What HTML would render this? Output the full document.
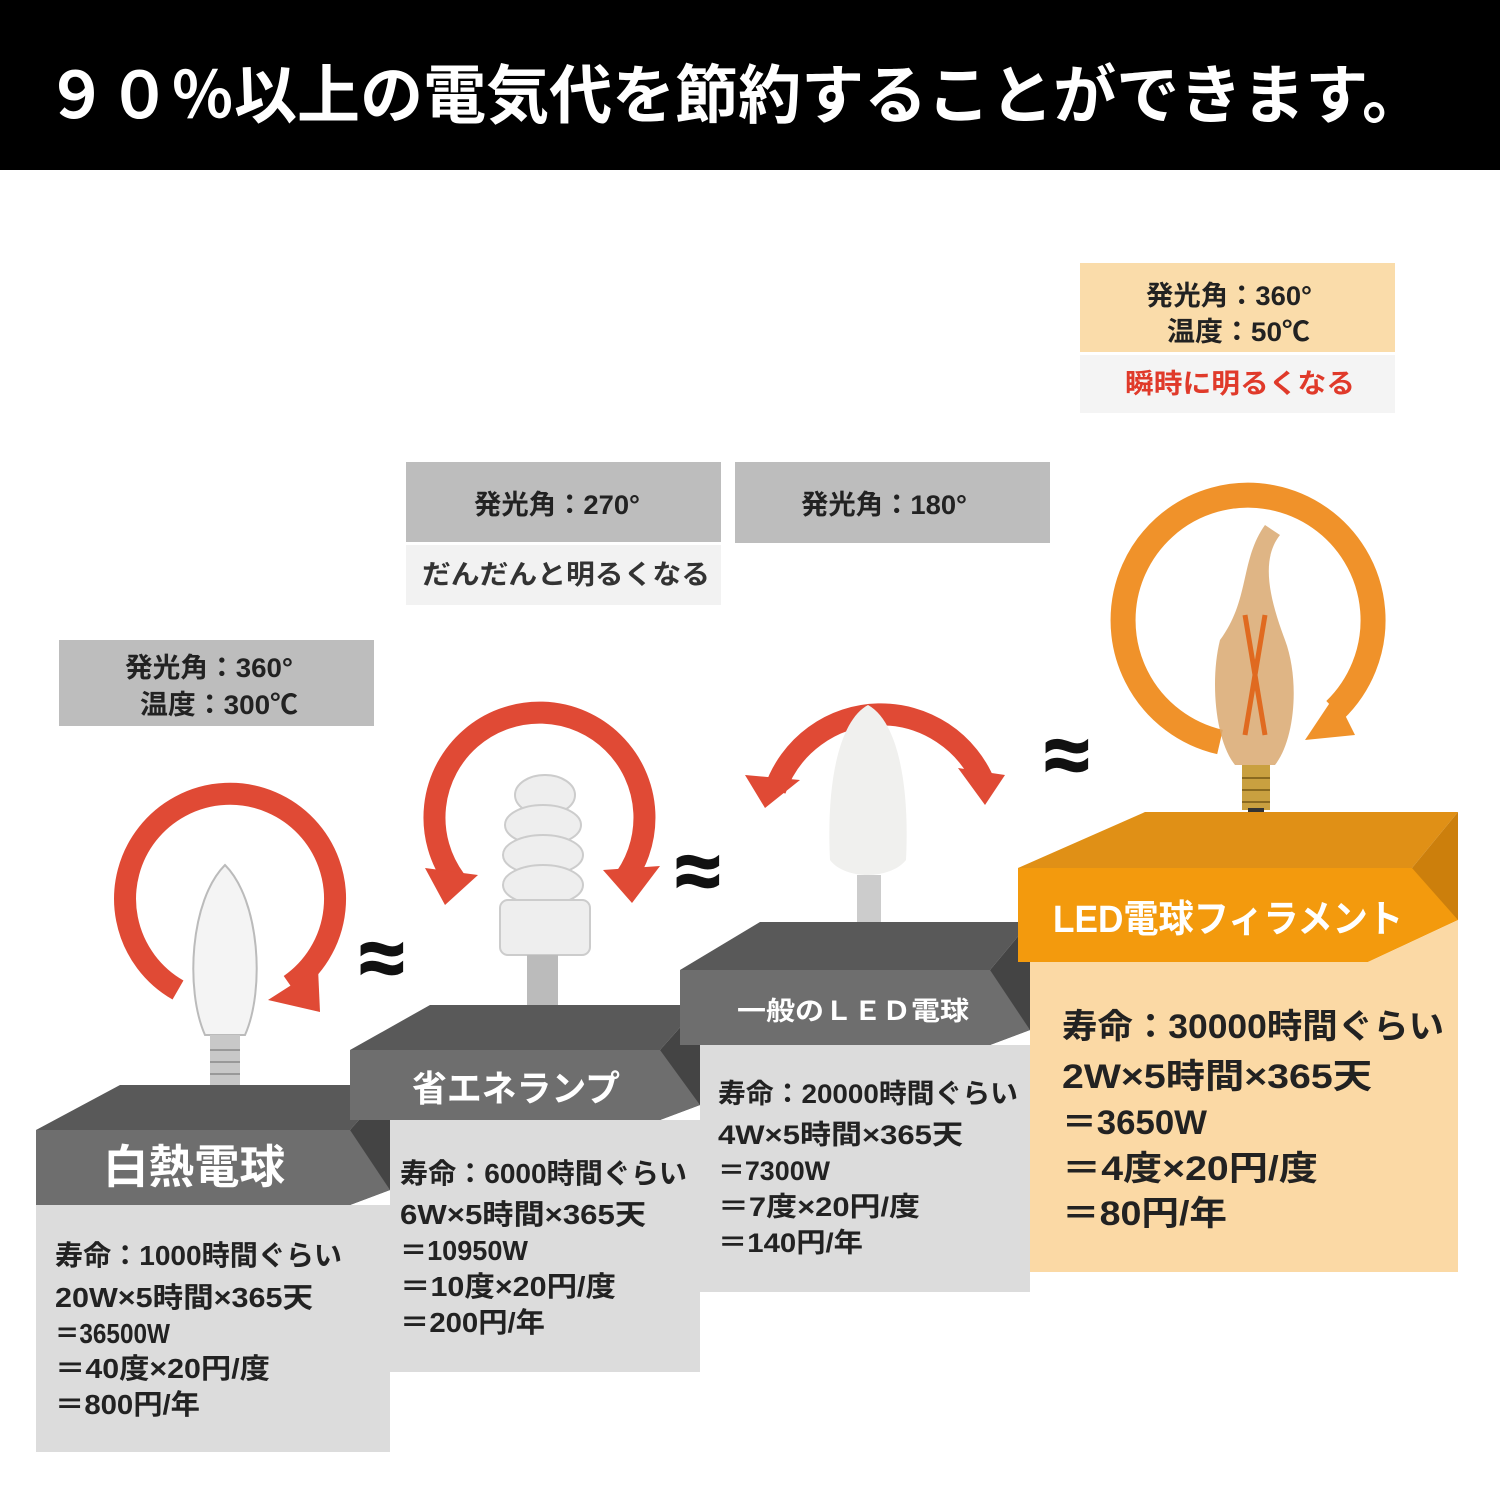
<!DOCTYPE html>
<html><head><meta charset="utf-8"><style>
html,body{margin:0;padding:0;background:#fff;}
svg text{font-family:"Liberation Sans","Noto Sans CJK JP",sans-serif;font-weight:bold;}
</style></head><body>
<svg width="1500" height="1500" viewBox="0 0 1500 1500" xmlns="http://www.w3.org/2000/svg">
<rect x="0" y="0" width="1500" height="170" fill="#000"/>
<text x="45" y="118" font-size="64" fill="#fff" textLength="1380" lengthAdjust="spacingAndGlyphs">９０％以上の電気代を節約することができます。</text>

<!-- label boxes -->
<rect x="59" y="640" width="315" height="86" fill="#bdbdbd"/>
<text x="125" y="677" font-size="27" fill="#222" textLength="168" lengthAdjust="spacingAndGlyphs">発光角：360°</text>
<text x="140" y="714" font-size="27" fill="#222" textLength="158" lengthAdjust="spacingAndGlyphs">温度：300℃</text>

<rect x="406" y="462" width="315" height="80" fill="#bdbdbd"/>
<text x="474" y="514" font-size="27" fill="#222" textLength="166" lengthAdjust="spacingAndGlyphs">発光角：270°</text>
<rect x="406" y="545" width="315" height="60" fill="#f2f2f2"/>
<text x="422" y="584" font-size="27" fill="#333" textLength="288" lengthAdjust="spacingAndGlyphs">だんだんと明るくなる</text>

<rect x="735" y="462" width="315" height="81" fill="#bdbdbd"/>
<text x="801" y="514" font-size="27" fill="#222" textLength="166" lengthAdjust="spacingAndGlyphs">発光角：180°</text>

<rect x="1080" y="263" width="315" height="89" fill="#fadcaa"/>
<text x="1146" y="305" font-size="27" fill="#222" textLength="166" lengthAdjust="spacingAndGlyphs">発光角：360°</text>
<text x="1167" y="341" font-size="27" fill="#222" textLength="143" lengthAdjust="spacingAndGlyphs">温度：50℃</text>
<rect x="1080" y="355" width="315" height="58" fill="#f4f4f4"/>
<text x="1125" y="393" font-size="27" fill="#e03a2a" textLength="230" lengthAdjust="spacingAndGlyphs">瞬時に明るくなる</text>

<!-- arrows -->
<g fill="none" stroke="#e04a35" stroke-width="22">
<path d="M 290 985 A 105 105 0 1 0 178 990"/>
<path d="M 455 880 A 105 105 0 1 1 620 885"/>
<path d="M 775 790 A 112 112 0 0 1 985 785"/>
</g>
<g fill="#e04a35">
<polygon points="318,968 268,1000 320,1012"/>
<polygon points="425,868 478,875 445,905"/>
<polygon points="603,870 660,866 632,903"/>
<polygon points="745,775 800,780 765,808"/>
<polygon points="958,768 1005,775 985,805"/>
</g>
<path d="M 1335 710 A 125 125 0 1 0 1220 742" fill="none" stroke="#f0922a" stroke-width="25"/>
<polygon points="1335,695 1305,740 1355,735" fill="#f0922a"/>

<!-- approx symbols -->
<text x="360" y="985" font-size="80" fill="#111" stroke="#111" stroke-width="2">≈</text>
<text x="676" y="898" font-size="80" fill="#111" stroke="#111" stroke-width="2">≈</text>
<text x="1045" y="782" font-size="80" fill="#111" stroke="#111" stroke-width="2">≈</text>

<!-- bulbs -->
<path d="M 225 865 C 190 900 185 990 205 1035 L 245 1035 C 265 990 260 900 225 865 Z" fill="#f4f4f4" stroke="#bbb" stroke-width="2"/>
<rect x="210" y="1035" width="30" height="55" fill="#c8c8c8"/>
<g stroke="#999" stroke-width="2"><line x1="210" y1="1050" x2="240" y2="1050"/><line x1="210" y1="1062" x2="240" y2="1062"/><line x1="210" y1="1074" x2="240" y2="1074"/></g>
<g fill="#eee" stroke="#ccc" stroke-width="2">
<ellipse cx="545" cy="795" rx="30" ry="20"/><ellipse cx="543" cy="825" rx="38" ry="20"/>
<ellipse cx="543" cy="855" rx="40" ry="20"/><ellipse cx="543" cy="885" rx="40" ry="20"/>
<rect x="500" y="900" width="90" height="55" rx="8"/></g>
<rect x="527" y="955" width="31" height="58" fill="#bbb"/>
<path d="M 868 705 C 840 720 826 780 830 860 C 845 880 890 880 906 860 C 910 780 896 720 868 705 Z" fill="#f0f0ee"/>
<rect x="857" y="875" width="24" height="63" fill="#ccc"/>
<path d="M 1265 525 C 1240 560 1250 600 1220 640 C 1210 680 1215 740 1235 765 L 1275 765 C 1295 740 1300 680 1285 640 C 1270 600 1260 560 1280 535 Z" fill="#d9a870" opacity="0.85"/>
<path d="M 1245 615 L 1265 735 M 1265 615 L 1245 735" stroke="#e06a20" stroke-width="5"/>
<rect x="1242" y="765" width="28" height="45" fill="#c9a040"/>
<g stroke="#8a6a20" stroke-width="2"><line x1="1242" y1="778" x2="1270" y2="778"/><line x1="1242" y1="790" x2="1270" y2="790"/><line x1="1242" y1="802" x2="1270" y2="802"/></g>
<rect x="1248" y="808" width="16" height="6" fill="#333"/>

<!-- box 1 -->
<polygon points="36,1130 120,1085 390,1085 350,1130" fill="#595959"/>
<polygon points="350,1130 390,1085 390,1190 350,1205" fill="#444"/>
<polygon points="36,1130 350,1130 390,1190 350,1205 36,1205" fill="#6e6e6e"/>
<rect x="36" y="1205" width="354" height="247" fill="#dcdcdc"/>
<text x="103" y="1183" font-size="46" fill="#fff" textLength="182" lengthAdjust="spacingAndGlyphs">白熱電球</text>
<g font-size="28" fill="#222">
<text x="55" y="1265" textLength="287" lengthAdjust="spacingAndGlyphs">寿命：1000時間ぐらい</text>
<text x="55" y="1307" textLength="258" lengthAdjust="spacingAndGlyphs">20W×5時間×365天</text>
<text x="55" y="1343" textLength="115" lengthAdjust="spacingAndGlyphs">＝36500W</text>
<text x="55" y="1378" textLength="215" lengthAdjust="spacingAndGlyphs">＝40度×20円/度</text>
<text x="55" y="1414" textLength="145" lengthAdjust="spacingAndGlyphs">＝800円/年</text>
</g>

<!-- box 2 -->
<polygon points="350,1050 430,1005 700,1005 660,1050" fill="#595959"/>
<polygon points="660,1050 700,1005 700,1105 660,1120" fill="#444"/>
<polygon points="350,1050 660,1050 700,1105 660,1120 350,1120" fill="#6e6e6e"/>
<rect x="390" y="1120" width="310" height="252" fill="#dcdcdc"/>
<text x="412" y="1101" font-size="36" fill="#fff" textLength="208" lengthAdjust="spacingAndGlyphs">省エネランプ</text>
<g font-size="28" fill="#222">
<text x="400" y="1183" textLength="287" lengthAdjust="spacingAndGlyphs">寿命：6000時間ぐらい</text>
<text x="400" y="1224" textLength="246" lengthAdjust="spacingAndGlyphs">6W×5時間×365天</text>
<text x="400" y="1260" textLength="128" lengthAdjust="spacingAndGlyphs">＝10950W</text>
<text x="400" y="1296" textLength="216" lengthAdjust="spacingAndGlyphs">＝10度×20円/度</text>
<text x="400" y="1332" textLength="145" lengthAdjust="spacingAndGlyphs">＝200円/年</text>
</g>

<!-- box 3 -->
<polygon points="680,970 760,922 1030,922 990,970" fill="#595959"/>
<polygon points="990,970 1030,922 1030,1030 990,1045" fill="#444"/>
<polygon points="680,970 990,970 1030,1030 990,1045 680,1045" fill="#6e6e6e"/>
<rect x="700" y="1045" width="330" height="247" fill="#dcdcdc"/>
<text x="737" y="1020" font-size="26" fill="#fff" textLength="232" lengthAdjust="spacingAndGlyphs">一般のＬＥＤ電球</text>
<g font-size="27" fill="#222">
<text x="718" y="1103" textLength="300" lengthAdjust="spacingAndGlyphs">寿命：20000時間ぐらい</text>
<text x="718" y="1144" textLength="245" lengthAdjust="spacingAndGlyphs">4W×5時間×365天</text>
<text x="718" y="1180" textLength="112" lengthAdjust="spacingAndGlyphs">＝7300W</text>
<text x="718" y="1216" textLength="202" lengthAdjust="spacingAndGlyphs">＝7度×20円/度</text>
<text x="718" y="1252" textLength="145" lengthAdjust="spacingAndGlyphs">＝140円/年</text>
</g>

<!-- box 4 -->
<polygon points="1018,868 1145,812 1458,812 1412,868" fill="#e09016"/>
<polygon points="1412,868 1458,812 1458,920 1412,940" fill="#cc7f0c"/>
<polygon points="1018,868 1412,868 1458,920 1368,962 1018,962" fill="#f39a0d"/>
<rect x="1030" y="962" width="428" height="310" fill="#fbd9a5"/>
<polygon points="1368,962 1458,920 1458,962" fill="#fbd9a5"/>
<text x="1053" y="932" font-size="38" fill="#fff" textLength="350" lengthAdjust="spacingAndGlyphs">LED電球フィラメント</text>
<g font-size="34" fill="#222">
<text x="1062" y="1038" textLength="382" lengthAdjust="spacingAndGlyphs">寿命：30000時間ぐらい</text>
<text x="1062" y="1088" textLength="310" lengthAdjust="spacingAndGlyphs">2W×5時間×365天</text>
<text x="1062" y="1134" textLength="145" lengthAdjust="spacingAndGlyphs">＝3650W</text>
<text x="1062" y="1180" textLength="256" lengthAdjust="spacingAndGlyphs">＝4度×20円/度</text>
<text x="1062" y="1225" textLength="165" lengthAdjust="spacingAndGlyphs">＝80円/年</text>
</g>
</svg>
</body></html>
